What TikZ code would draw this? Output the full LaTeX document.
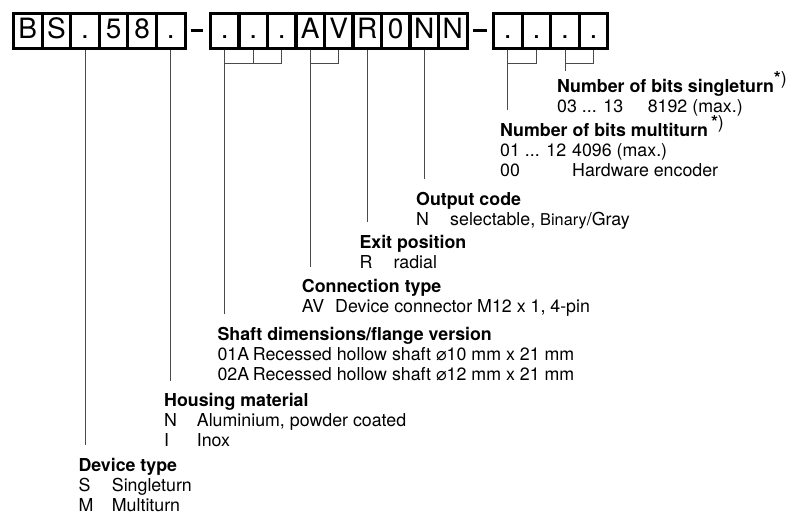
\documentclass[tikz,border=0pt]{standalone}
\usepackage{fontspec}
\usepackage{array}
\setmainfont{TeX Gyre Heros}
\newfontfamily\symfont{DejaVu Sans}
\definecolor{leadc}{HTML}{4A4A4A}
\newcommand{\dia}{{\symfont ⌀}}
\newcommand{\fnote}{\smash{\raisebox{7.5pt}{*\mdseries)}}}
\newcommand{\keytab}[3]{\begin{tabular}[t]{@{}p{#1}@{}l@{}}\multicolumn{2}{@{}l@{}}{\bfseries #2}\\ #3\end{tabular}}

\begin{document}
\begin{tikzpicture}[x=1pt, y=-1pt, font=\fontsize{17.8}{20}\selectfont,
    cell/.style={draw, line width=3pt, minimum width=28.6pt, minimum height=34.7pt, inner sep=0pt,
      text height=20pt, text depth=5.2pt, font=\fontsize{28}{30}\selectfont},
    lead/.style={draw=leadc, line width=1pt},
    key/.style={anchor=base west, inner sep=0pt}]
    \useasboundingbox (0,0) rectangle (799,514);
    % type code boxes
    \foreach \ch [count=\i] in {B,S,.,5,8,.}
      \node[cell] (b\i) at ({13.5+(\i-0.5)*28.6},30.9) {\ch};
    \foreach \ch [count=\i from 7] in {.,.,.,A,V,R,0,N,N}
      \node[cell] (b\i) at ({210.5+(\i-6.5)*28.5},30.9) {\ch};
    \foreach \ch [count=\i from 16] in {.,.,.,.}
      \node[cell] (b\i) at ({493.5+(\i-15.5)*28.6},30.9) {\ch};
    \draw[line width=3pt] ([xshift=4pt]b6.east) -- ([xshift=-5.5pt]b7.west);
    \draw[line width=3pt] ([xshift=4pt]b15.east) -- ([xshift=-5.5pt]b16.west);
    % keys
    \node[key] (sin) at (557,92) {\keytab{90.6pt}{Number of bits singleturn\fnote}{03 ... 13 & 8192 (max.)}};
    \node[key] (mul) at (500,136) {\keytab{72pt}{Number of bits multiturn\,\fnote}{01 ... 12 & 4096 (max.)\\ 00 & Hardware encoder}};
    \node[key] (out) at (416,205) {\keytab{34pt}{Output code}{N & selectable, {\fontsize{16.3}{20}\selectfont Binary}/Gray}};
    \node[key] (exi) at (359.3,248.3) {\keytab{34pt}{Exit position}{R & radial}};
    \node[key] (con) at (301.7,292.7) {\keytab{33.3pt}{Connection type}{AV & Device connector M12 x 1, 4-pin}};
    \node[key] (sha) at (217.3,340) {\keytab{35.4pt}{Shaft dimensions/flange version}{01A & Recessed hollow shaft \dia10 mm x 21 mm\\ 02A & Recessed hollow shaft \dia12 mm x 21 mm}};
    \node[key] (hou) at (164,406.7) {\keytab{32.7pt}{Housing material}{N & Aluminium, powder coated\\ I & Inox}};
    \node[key] (dev) at (78.3,471.5) {\keytab{33.4pt}{Device type}{S & Singleturn\\ M & Multiturn}};
    % leader lines
    \draw[lead] (b3.south) -- ([yshift=12pt]b3.south |- dev.north);
    \draw[lead] (b6.south) -- ([yshift=12pt]b6.south |- hou.north);
    \draw[lead] (b9.south) -- ++(0,14) -| (b7.south) -- ([yshift=12pt]b7.south |- sha.north);
    \draw[lead] (b8.south) -- ++(0,14);
    \draw[lead] (b11.south) -- ++(0,14) -| (b10.south) -- ([yshift=12pt]b10.south |- con.north);
    \draw[lead] (b12.south) -- ([yshift=12pt]b12.south |- exi.north);
    \draw[lead] (b14.south) -- ([yshift=12pt]b14.south |- out.north);
    \draw[lead] (b17.south) -- ++(0,14) -| (b16.south) -- ([yshift=12pt]b16.south |- mul.north);
    \draw[lead] (b19.south) -- ++(0,14) -| (b18.south) -- ([yshift=7pt]b18.south |- sin.north);
  \end{tikzpicture}
\end{document}
